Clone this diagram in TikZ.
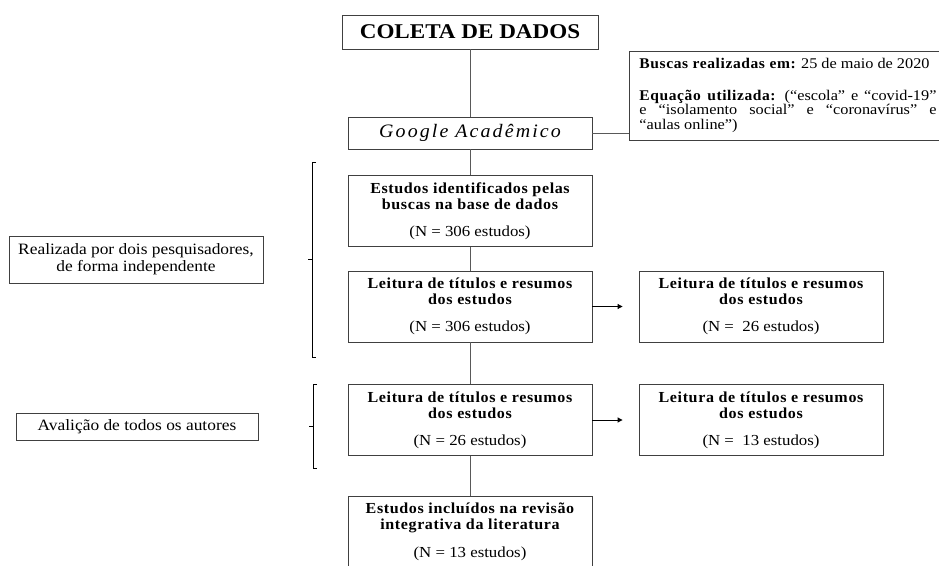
\documentclass[tikz,border=0pt]{standalone}
\usepackage{fontspec}
\setmainfont{Liberation Serif}[FakeStretch=1.1]
\newfontfamily\spacedfont{Liberation Serif}[LetterSpace=4,FakeStretch=1.05]
\newfontfamily\gfont{Liberation Serif}[LetterSpace=11,FakeStretch=1.05]
\usetikzlibrary{arrows.meta}
\definecolor{boxc}{HTML}{404040}
\definecolor{linec}{HTML}{595959}
\newcommand\bsp[1]{{\spacedfont\bfseries #1}}
\tikzset{
  box/.style={draw=boxc, line width=0.9pt, fill=white, minimum width=244pt,
    minimum height=71pt, inner sep=0pt, align=center,
    font=\fontsize{15.3}{16}\selectfont},
  lbox/.style={draw=boxc, line width=0.9pt, fill=white, inner sep=0pt,
    align=center, font=\fontsize{15.8}{17}\selectfont},
  conn/.style={draw=linec, line width=1pt},
  arr/.style={draw=black, line width=1pt, -{Triangle[length=5pt,width=5pt]}, shorten >=16pt},
  brk/.style={draw=black, line width=1pt},
}
\begin{document}
\begin{tikzpicture}[x=1pt,y=-1pt]
\useasboundingbox (0,0) rectangle (939,565);
\clip (0,0) rectangle (939,565);

% main column
\node[box, minimum width=256pt, minimum height=34pt,
  font=\fontsize{21}{24}\selectfont\bfseries] (coleta) at (470,32) {COLETA DE DADOS};
\node[box, minimum height=32pt, font=\fontsize{19}{20}\selectfont\gfont\itshape]
  (google) at (470,133) {Google Acadêmico};
\node[box] (est) at (470,211)
  {\bsp{Estudos identificados pelas}\\\bsp{buscas na base de dados}\\[11pt](N = 306 estudos)};
\node[box] (l1) at (470,306.5)
  {\bsp{Leitura de títulos e resumos}\\\bsp{dos estudos}\\[11pt](N = 306 estudos)};
\node[box] (r1) at (761,306.5)
  {\bsp{Leitura de títulos e resumos}\\\bsp{dos estudos}\\[11pt](N =~ 26 estudos)};
\node[box] (l2) at (470,420)
  {\bsp{Leitura de títulos e resumos}\\\bsp{dos estudos}\\[11pt](N = 26 estudos)};
\node[box] (r2) at (761,420)
  {\bsp{Leitura de títulos e resumos}\\\bsp{dos estudos}\\[11pt](N =~ 13 estudos)};
\node[box] (fin) at (470,531.5)
  {\bsp{Estudos incluídos na revisão}\\\bsp{integrativa da literatura}\\[12pt](N = 13 estudos)};

% info box (its right edge lies beyond the picture, as in the reference)
\node[draw=boxc, line width=0.9pt, fill=white, inner xsep=10pt, inner ysep=0pt,
  text width=297pt, minimum height=89pt, align=justify,
  font=\fontsize{14.8}{14.5}\selectfont, anchor=west] (info) at (629,95.5)
  {{\spacedfont\bfseries Buscas realizadas em:} 25 de maio de 2020\par\vspace{17pt}%
   {\spacedfont\bfseries Equação utilizada:} (“escola” e “covid-19”\linebreak
   e “isolamento social” e “coronavírus” e\linebreak “aulas online”)\par};

% left notes
\node[lbox, minimum width=254pt, minimum height=47pt] (real) at (136,259.5)
  {Realizada por dois pesquisadores,\\de forma independente};
\node[lbox, minimum width=242pt, minimum height=27pt] (aval) at (137,426.5)
  {Avalição de todos os autores};

% connectors
\draw[conn] (coleta) -- (google);
\draw[conn] (google) -- (est);
\draw[conn] (est) -- (l1);
\draw[conn] (l1) -- (l2);
\draw[conn] (l2) -- (fin);
\draw[conn] (google.east) -- (google.east -| info.west);
\draw[arr] (l1.east) -- (r1.west);
\draw[arr] (l2.east) -- (r2.west);

% brackets
\coordinate (b1t) at (312,162);
\coordinate (b1b) at (312,357);
\coordinate (b1m) at (312,259);
\draw[brk] ([xshift=4pt]b1t) -- (b1t) -- (b1b) -- ++(4,0);
\draw[brk] (b1m) -- ++(-4,0);
\coordinate (b2t) at (313,384);
\coordinate (b2b) at (313,468);
\coordinate (b2m) at (313,426);
\draw[brk] ([xshift=4pt]b2t) -- (b2t) -- (b2b) -- ++(4,0);
\draw[brk] (b2m) -- ++(-4,0);
\end{tikzpicture}
\end{document}
